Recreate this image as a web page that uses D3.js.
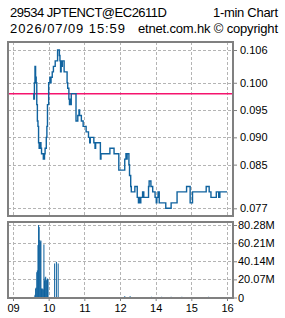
<!DOCTYPE html>
<html>
<head>
<meta charset="utf-8">
<script src="https://cdn.jsdelivr.net/npm/d3@7"></script>
<style>
body { margin: 0; background: #fff; }
text { font-family: "Liberation Sans", Arial, sans-serif; fill: #000; }
.hdr { font-size: 13px; }
</style>
</head>
<body>
<svg id="chart" width="285" height="318"></svg>
<script>
const title1 = "29534 JPTENCT@EC2611D";
const title2 = "2026/07/09 15:59";
const chartType = "1-min Chart";
const copyright = "etnet.com.hk \u00a9 copyright";

const prevClose = 0.098;

const priceTimes = ["09:34","09:35","09:36","09:37","09:38","09:39","09:40","09:41","09:42","09:43",
  "09:44","09:45","09:47","09:48","09:51","09:53","09:54","09:56","09:57","09:58",
  "10:00","10:02","10:03","10:04","10:06","10:08","10:11","10:15","10:18","10:19",
  "10:20","10:21","10:22","10:23","10:26","10:31","10:32","10:34","10:35","10:36",
  "10:37","10:38","10:46","10:49","10:51","10:52","10:55","10:58","11:03","11:07",
  "11:09","11:10","11:16","11:18","11:19","11:27","11:28","11:43","11:50","11:58",
  "13:08","13:10","13:11","13:12","13:15","13:16","13:18","13:19","13:25","13:29",
  "13:31","13:32","13:34","13:35","13:38","13:40","13:48","13:49","13:52","13:55",
  "13:59","14:01","14:02","14:04","14:06","14:17","14:26","14:36","14:52","14:58",
  "15:02","15:25","15:30","15:33","15:42","15:46","15:48","16:00"];
const priceValues = [0.098,0.097,0.100,0.103,0.101,0.100,0.096,0.093,0.092,0.089,
  0.088,0.089,0.088,0.087,0.086,0.087,0.088,0.090,0.092,0.096,
  0.100,0.101,0.100,0.101,0.102,0.103,0.104,0.106,0.105,0.104,
  0.102,0.104,0.103,0.104,0.102,0.100,0.099,0.097,0.096,0.097,
  0.096,0.098,0.093,0.094,0.095,0.094,0.093,0.092,0.091,0.090,
  0.089,0.090,0.089,0.088,0.089,0.086,0.087,0.088,0.087,0.084,
  0.086,0.087,0.086,0.087,0.085,0.083,0.081,0.080,0.081,0.079,
  0.078,0.079,0.078,0.079,0.080,0.079,0.081,0.082,0.081,0.080,
  0.079,0.078,0.079,0.080,0.078,0.077,0.078,0.080,0.081,0.078,
  0.080,0.081,0.080,0.079,0.080,0.079,0.080,0.080];

// volume in millions
const volTimes = ["09:36","09:37","09:38","09:39","09:40","09:41","09:42","09:43","09:44","09:45",
  "09:46","09:47","09:48","09:49","09:50","09:51","09:52","09:53","09:54","09:55",
  "09:56","09:57","09:58","09:59","10:10","10:13","10:16",
  "13:08","13:17","13:53","14:10","14:26","14:44","15:29"];
const volValues = [1,3,10,11,28,30,58,80.28,78,63.6,
  62,63,10,9,10,9,58.8,19,22,23,
  19,20,21,20,37.7,39.5,37.7,
  1.5,1.5,0.8,0.8,0.8,0.8,0.8];

const priceTicks = [0.077,0.085,0.090,0.095,0.100,0.106];
const volTicks = [0,20.07,40.14,60.21,80.28];
const hourTicks = ["09","10","11","12","14","15","16"];

const left = 8, right = 233;
const mainTop = 42, mainBot = 216;
const volTop = 222, volBot = 298;
const blue = "#10639f";

// minutes of trading from 09:00, lunch hour 12:00-13:00 removed
function tradeMin(t) {
    var p = t.split(":");
    var m = (+p[0]) * 60 + (+(p[1] || 0)) - 540;
    if (m >= 240) m -= 60;
    return m;
}

var svg = d3.select("#chart");

var x = d3.scaleLinear().domain([0, 360]).range([13, 227]);
var y = d3.scaleLinear().domain([0.077, 0.106]).range([208.3, 50]);
var yv = d3.scaleLinear().domain([0, 80.28]).range([297.5, 225]);

/* header, widths fitted to the original bitmap font */
function hdr(txt, xp, yp, anchor, len) {
    svg.append("text").attr("class", "hdr")
        .attr("x", xp).attr("y", yp)
        .attr("text-anchor", anchor)
        .attr("textLength", len)
        .text(txt);
}
hdr(title1, 10, 16.5, "start", 157);
hdr(chartType, 278, 16.5, "end", 65);
hdr(title2, 10, 33, "start", 115);
hdr(copyright, 278, 33, "end", 140);

/* grids */
function drawGrid(top, bot, ys, ticks) {
    var g = svg.append("g").attr("stroke", "#b4b4b4").attr("stroke-dasharray", "3,2").attr("shape-rendering", "crispEdges");
    g.selectAll("line.h").data(ticks).enter().append("line")
        .attr("x1", left).attr("x2", right)
        .attr("y1", d => Math.round(ys(d)) + 0.5).attr("y2", d => Math.round(ys(d)) + 0.5);
    g.selectAll("line.v").data(hourTicks).enter().append("line")
        .attr("y1", top).attr("y2", bot)
        .attr("x1", d => Math.round(x(tradeMin(d + ":00"))) + 0.5)
        .attr("x2", d => Math.round(x(tradeMin(d + ":00"))) + 0.5);
}
drawGrid(mainTop, mainBot, y, priceTicks);
drawGrid(volTop, volBot, yv, volTicks.slice(1));

/* previous close */
svg.append("line")
    .attr("x1", left).attr("x2", right)
    .attr("y1", y(prevClose)).attr("y2", y(prevClose))
    .attr("stroke", "#f5146e").attr("stroke-width", 1.5);

/* price line */
var pts = priceTimes.map((t, i) => [tradeMin(t), priceValues[i]]);
var line = d3.line()
    .x(d => x(d[0]))
    .y(d => y(d[1]))
    .curve(d3.curveStepAfter);
svg.append("path").datum(pts)
    .attr("d", line)
    .attr("fill", "none")
    .attr("stroke", blue)
    .attr("stroke-width", 1.4);

/* volume bars */
svg.selectAll("rect.vol")
    .data(volTimes.map((t, i) => [tradeMin(t), volValues[i]]))
    .enter().append("rect")
    .attr("class", "vol")
    .attr("x", d => x(d[0]) - 0.5)
    .attr("width", 1)
    .attr("y", d => yv(d[1]))
    .attr("height", d => yv(0) - yv(d[1]))
    .attr("fill", blue);

/* panel borders */
[[mainTop, mainBot], [volTop, volBot]].forEach(function(p) {
    svg.append("rect")
        .attr("x", left).attr("y", p[0])
        .attr("width", right - left).attr("height", p[1] - p[0])
        .attr("fill", "none").attr("stroke", "#808080").attr("stroke-width", 2);
});

/* axes */
var ax1 = svg.append("g").attr("transform", "translate(" + right + ",0)")
    .call(d3.axisRight(y).tickValues(priceTicks).tickSize(4).tickPadding(3).tickFormat(d3.format(".3f")));
var ax2 = svg.append("g").attr("transform", "translate(" + right + ",0)")
    .call(d3.axisRight(yv).tickValues(volTicks).tickSize(4).tickPadding(1)
        .tickFormat(d => d === 0 ? "0" : d.toFixed(2) + "M"));
var ax3 = svg.append("g").attr("transform", "translate(0," + volBot + ")")
    .call(d3.axisBottom(x).tickValues(hourTicks.map(h => tradeMin(h + ":00")))
        .tickSize(3).tickPadding(3).tickFormat((d, i) => hourTicks[i]));
[ax1, ax2, ax3].forEach(function(a) {
    a.select(".domain").remove();
    a.selectAll("line").attr("stroke", "#808080");
    a.selectAll("text").attr("font-size", 11).attr("font-family", "Liberation Sans, Arial, sans-serif").attr("fill", "#000");
});
</script>
</body>
</html>
